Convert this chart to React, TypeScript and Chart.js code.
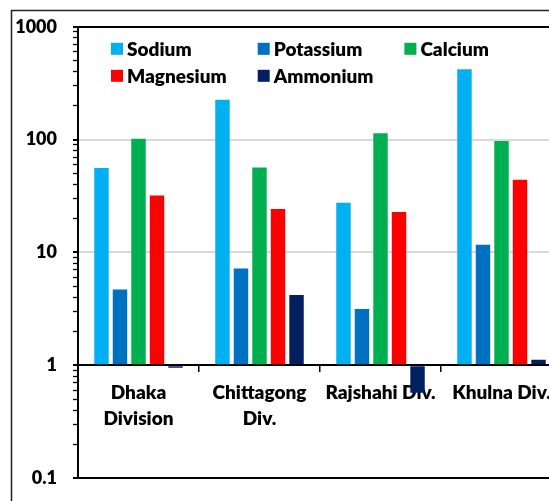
import React, { useEffect, useRef } from "react";
import { Chart, registerables } from "chart.js";

Chart.register(...registerables);

const CATEGORIES: string[][] = [["Dhaka", "Division"], ["Chittagong", "Div."], ["Rajshahi Div."], ["Khulna Div."]];
const SERIES_NAMES = ["Sodium", "Potassium", "Calcium", "Magnesium", "Ammonium"];
const SODIUM = [56, 225, 27.5, 420];
const POTASSIUM = [4.7, 7.2, 3.15, 11.7];
const CALCIUM = [102, 56.5, 114, 97];
const MAGNESIUM = [32, 24.3, 22.8, 44];
const AMMONIUM = [0.95, 4.2, 0.57, 1.12];
const COLORS = ["#00B0F0", "#0070C0", "#00B050", "#FF0000", "#002060"];
const Y_MAJOR = [0.1, 1, 10, 100, 1000];
const Y_LABELS = ["0.1", "1", "10", "100", "1000"];

const FONT = "Lato, 'Open Sans', sans-serif";
const WEIGHT = "800";

function isMajor(v: number) {
  return Y_MAJOR.some((m) => Math.abs(m - v) < 1e-9);
}

const frame = {
  id: "frame",
  beforeDraw(chart: any) {
    const ctx = chart.ctx;
    ctx.save();
    ctx.strokeStyle = "#222";
    ctx.lineWidth = 1.5;
    ctx.strokeRect(11.5, 10.5, 800, 800);
    ctx.restore();
  },
};

const gridLegend = {
  id: "gridLegend",
  afterDraw(chart: any) {
    const ctx = chart.ctx;
    const area = chart.chartArea;
    ctx.save();
    ctx.font = `${WEIGHT} 19px ${FONT}`;
    ctx.textBaseline = "middle";
    ctx.textAlign = "left";
    chart.data.datasets.forEach((ds: any, i: number) => {
      const col = i % 3;
      const row = Math.floor(i / 3);
      const x = area.left + 33 + col * 146.7;
      const y = area.top + 22 + row * 27;
      ctx.fillStyle = ds.backgroundColor;
      ctx.fillRect(x, y - 6, 12, 12);
      ctx.fillStyle = "#000";
      ctx.fillText(ds.label, x + 16, y + 1);
    });
    ctx.restore();
  },
};

export default function App() {
  const ref = useRef<HTMLCanvasElement>(null);
  useEffect(() => {
    if (!ref.current) return;
    const values = [SODIUM, POTASSIUM, CALCIUM, MAGNESIUM, AMMONIUM];
    const chart = new Chart(ref.current, {
      type: "bar",
      data: {
        labels: CATEGORIES,
        datasets: SERIES_NAMES.map((name, i) => ({
          label: name,
          data: values[i],
          backgroundColor: COLORS[i],
          base: 1,
          categoryPercentage: 0.765,
          barPercentage: 0.78,
        })),
      },
      options: {
        animation: false,
        responsive: false,
        layout: { padding: { left: 0, top: 23, right: 38, bottom: 42 } },
        plugins: { legend: { display: false }, tooltip: { enabled: false } },
        scales: {
          x: {
            type: "category",
            position: { y: 1 } as any,
            grid: {
              drawOnChartArea: false,
              drawTicks: true,
              tickLength: 6,
              color: "#000",
              lineWidth: 1.5,
              offset: true,
            },
            border: { display: true, color: "#000", width: 2 },
            ticks: {
              autoSkip: false,
              maxRotation: 0,
              minRotation: 0,
              color: "#000",
              padding: 8,
              font: { family: FONT, size: 19, weight: WEIGHT, lineHeight: 1.4 },
            },
          },
          y: {
            type: "logarithmic",
            min: 0.1,
            max: 1000,
            afterFit(scale: any) {
              scale.width = 78;
            },
            afterBuildTicks(scale: any) {
              const t: { value: number }[] = [];
              for (let e = -1; e <= 2; e++) {
                for (let m = 1; m <= 9; m++) {
                  t.push({ value: parseFloat((m * Math.pow(10, e)).toPrecision(6)) });
                }
              }
              t.push({ value: 1000 });
              scale.ticks = t;
            },
            grid: {
              drawTicks: true,
              tickLength: 5,
              color: (c: any) => {
                const v = c.tick ? c.tick.value : 0;
                if (Math.abs(v - 10) < 1e-9 || Math.abs(v - 100) < 1e-9) return "#d9d9d9";
                if (isMajor(v)) return "#000";
                return "rgba(0,0,0,0)";
              },
              lineWidth: (c: any) => {
                const v = c.tick ? c.tick.value : 0;
                return isMajor(v) ? 2 : 1;
              },
              tickColor: "#000",
              tickWidth: (c: any) => {
                const v = c.tick ? c.tick.value : 0;
                return isMajor(v) ? 2 : 1.3;
              },
            },
            border: { display: true, color: "#000", width: 2 },
            ticks: {
              autoSkip: false,
              padding: 16,
              color: "#000",
              font: { family: FONT, size: 18, weight: WEIGHT },
              callback: (v: any) => {
                const idx = Y_MAJOR.findIndex((m) => Math.abs(m - Number(v)) < 1e-9);
                return idx >= 0 ? Y_LABELS[idx] : "";
              },
            },
          },
        },
      },
      plugins: [frame, gridLegend],
    });
    return () => chart.destroy();
  }, []);
  return (
    <div style={{ position: "fixed", left: 0, top: 0, width: 549, height: 501, overflow: "hidden", background: "#fff" }}>
      <canvas ref={ref} width={600} height={520} style={{ position: "absolute", left: 0, top: 0 }} />
    </div>
  );
}
